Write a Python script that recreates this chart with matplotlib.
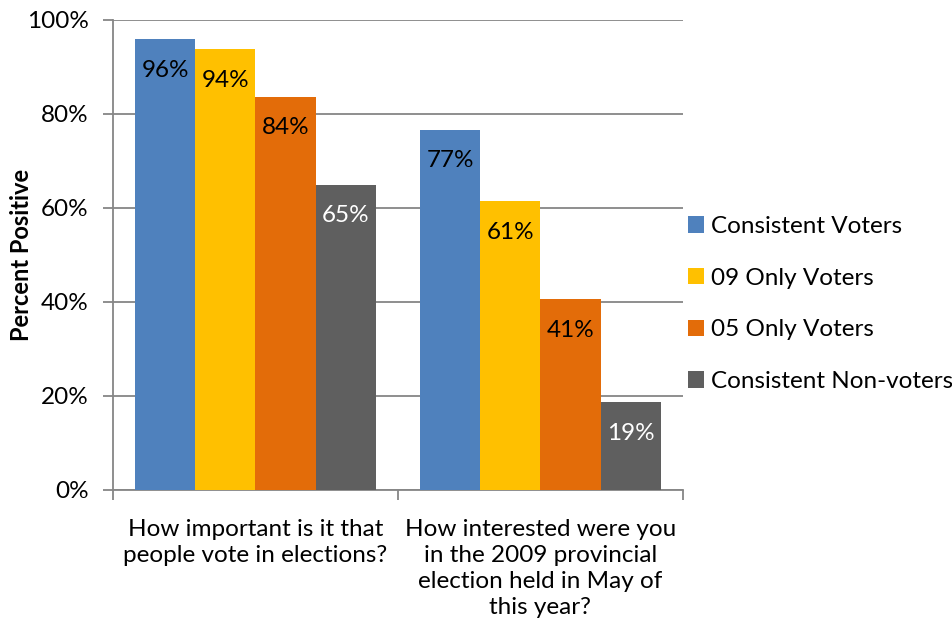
import matplotlib
matplotlib.use("Agg")
import matplotlib.pyplot as plt
from matplotlib.patches import Patch
import numpy as np

plt.rcParams['font.family'] = ['Lato', 'DejaVu Sans']

categories = ["How important is it that\npeople vote in elections?",
              "How interested were you\nin the 2009 provincial\nelection held in May of\nthis year?"]
series = ["Consistent Voters", "09 Only Voters", "05 Only Voters", "Consistent Non-voters"]
consistent_voters = [0.959, 0.766]
only_09_voters = [0.938, 0.614]
only_05_voters = [0.837, 0.406]
consistent_nonvoters = [0.650, 0.187]
y_ticks = [0, 0.2, 0.4, 0.6, 0.8, 1.0]
y_tick_labels = ["0%", "20%", "40%", "60%", "80%", "100%"]

values = [consistent_voters, only_09_voters, only_05_voters, consistent_nonvoters]
colors = ["#4F81BD", "#FFC000", "#E36C09", "#5F5F5F"]
label_colors = ["black", "black", "black", "white"]
fs = 17.5

fig = plt.figure(figsize=(9.53, 6.4), dpi=100)
ax = fig.add_axes([113/953, 1-490/640, (683-113)/953, (490-20)/640])

x = np.arange(len(categories))
width = 60/284
offsets = (np.arange(len(series)) - 1.5) * width
grid_c = "#868686"

for vals, off, col, lc in zip(values, offsets, colors, label_colors):
    bars = ax.bar(x + off, vals, width, color=col, zorder=3, linewidth=0)
    for b, v in zip(bars, vals):
        ax.annotate(f"{round(v*100):.0f}%", (b.get_x() + b.get_width()/2, v),
                    xytext=(0, -31), textcoords="offset pixels",
                    ha="center", va="center", fontsize=fs, color=lc, zorder=4)

ax.set_xlim(-0.5, 1.5)
ax.set_ylim(0, 1.0)
ax.set_yticks(y_ticks)
ax.set_yticklabels(y_tick_labels, fontsize=fs)
ax.yaxis.grid(True, color=grid_c, linewidth=1.3, zorder=0)
ax.set_axisbelow(True)

ax.set_xticks([-0.5, 0.5, 1.5], minor=False)
ax.set_xticklabels([])
ax.set_xticks(x, minor=True)
ax.set_xticklabels(categories, minor=True, fontsize=fs, linespacing=1.3, va="top")
ax.tick_params(axis="x", which="major", length=7, color=grid_c, width=1.3)
ax.tick_params(axis="x", which="minor", length=0, pad=21)
ax.tick_params(axis="y", length=7, color=grid_c, width=1.3, pad=10.5)

for s in ["top", "right"]:
    ax.spines[s].set_visible(False)
for s in ["left", "bottom"]:
    ax.spines[s].set_color(grid_c)
    ax.spines[s].set_linewidth(1.3)

ax.set_ylabel("Percent Positive", fontsize=17, fontweight="bold")
ax.yaxis.set_label_coords((33 - 113) / 570, 0.5)

handles = [Patch(facecolor=c, edgecolor="none") for c in colors]
fig.legend(handles, series, loc="center left", bbox_to_anchor=(688/953, 1-304/640),
           frameon=False, fontsize=fs, handlelength=0.65, handleheight=0.65,
           handletextpad=0.3, labelspacing=1.26, borderaxespad=0, borderpad=0)

fig.savefig("out.png", dpi=100, facecolor="white")
